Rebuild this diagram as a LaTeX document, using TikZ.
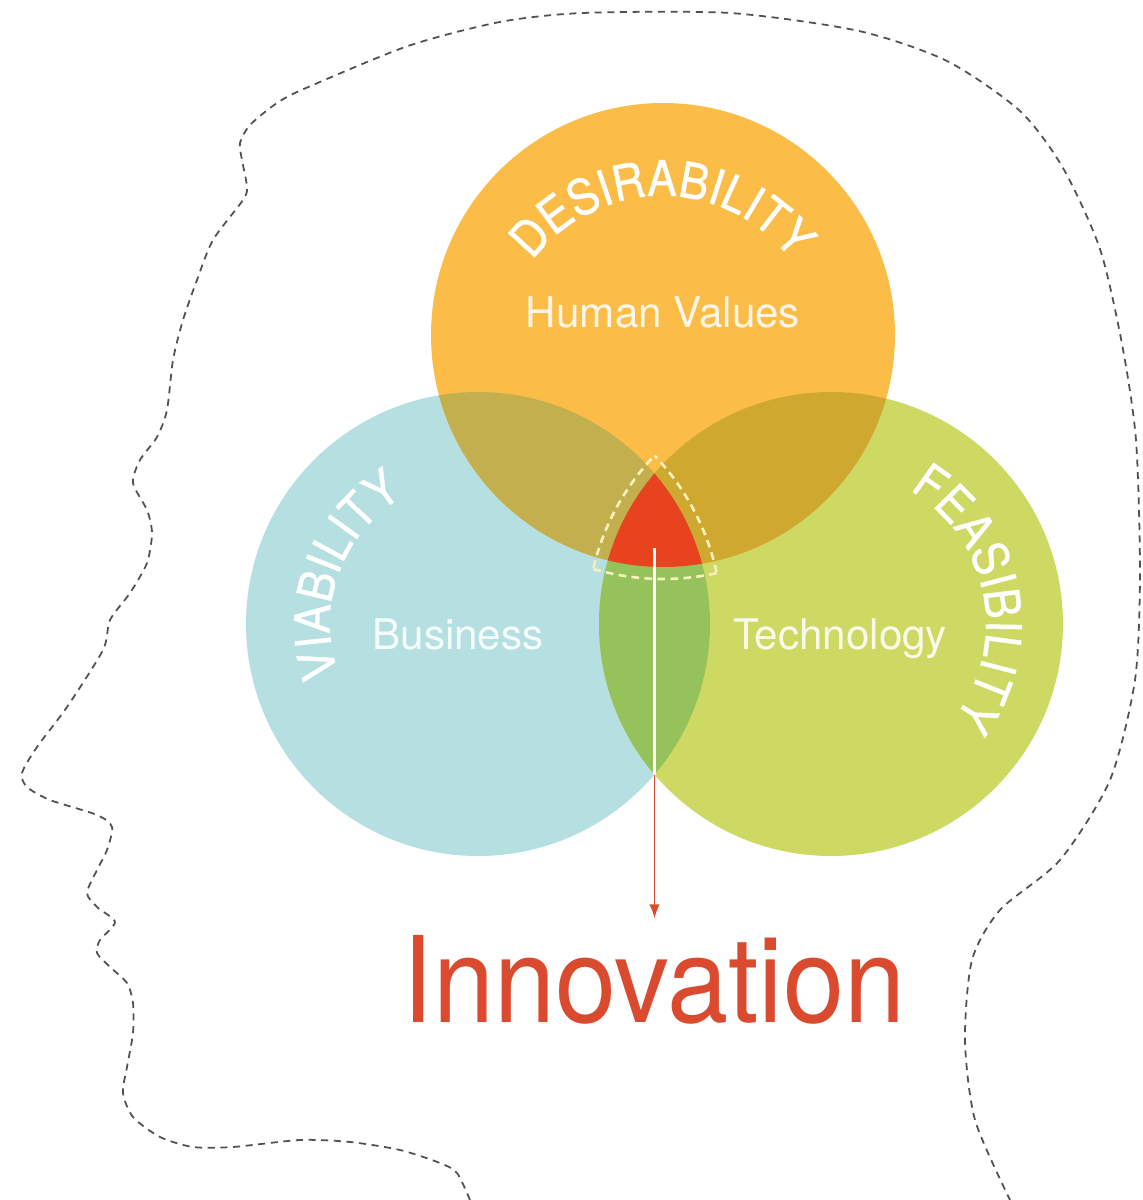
\documentclass[tikz,border=0pt]{standalone}
\usepackage{fontspec}
\setmainfont{TeX Gyre Heros}
\newfontfamily\innovfont[FakeStretch=0.92]{TeX Gyre Heros}
\newfontfamily\arcfont[FakeStretch=0.9,FakeBold=0.8]{TeX Gyre Heros}
\usepackage{tikz}
\usetikzlibrary{arrows.meta,decorations.text}

\definecolor{desircol}{HTML}{FBBD47}
\definecolor{viabcol}{HTML}{B5DFE0}
\definecolor{feascol}{HTML}{CDD963}
\definecolor{dvcol}{HTML}{C4AF4F}
\definecolor{dfcol}{HTML}{CFA92F}
\definecolor{vfcol}{HTML}{96C25C}
\definecolor{sparkcol}{HTML}{E8431F}
\definecolor{innovcol}{HTML}{DA4A2E}
\definecolor{creamcol}{HTML}{F6F0BC}
\definecolor{headcol}{HTML}{505050}

\begin{document}
\begin{tikzpicture}
        \tikzstyle{headline}=[
            draw=headcol,
            line width=0.5pt,
            dash pattern=on 2pt off 1.6pt
        ]
        \tikzstyle{sparkedge}=[
            draw=creamcol,
            line width=0.75pt,
            dash pattern=on 2.2pt off 1.5pt
        ]
        \tikzstyle{circlabel}=[
            text=white,
            text opacity=0.88,
            font=\fontsize{12}{14}\selectfont,
            anchor=base
        ]
        \tikzstyle{innovlabel}=[
            text=innovcol,
            font=\innovfont\fontsize{34}{40}\selectfont,
            inner sep=0pt,
            anchor=base
        ]
        \tikzstyle{arclabel}=[
            font=\arcfont\fontsize{14}{16}\selectfont,
            decorate
        ]

        \useasboundingbox (0,0) rectangle (11.42,12);

        \coordinate (dcen) at (6.63,8.65);
        \coordinate (vcen) at (4.78,5.76);
        \coordinate (fcen) at (8.31,5.76);

        \fill[viabcol] (vcen) circle (2.32);
        \fill[feascol] (fcen) circle (2.32);
        \fill[desircol] (dcen) circle (2.32);
        \begin{scope}
            \clip (dcen) circle (2.32);
            \fill[dvcol] (vcen) circle (2.32);
            \fill[dfcol] (fcen) circle (2.32);
        \end{scope}
        \begin{scope}
            \clip (vcen) circle (2.32);
            \fill[vfcol] (fcen) circle (2.32);
            \clip (fcen) circle (2.32);
            \fill[sparkcol] (dcen) circle (2.32);
        \end{scope}

        \begin{scope}
            \clip (vcen) circle (2.44);
            \clip (dcen) circle (2.44);
            \draw[sparkedge] (fcen) circle (2.44);
        \end{scope}
        \begin{scope}
            \clip (fcen) circle (2.44);
            \clip (dcen) circle (2.44);
            \draw[sparkedge] (vcen) circle (2.44);
        \end{scope}
        \begin{scope}
            \clip (vcen) circle (2.44);
            \clip (fcen) circle (2.44);
            \draw[sparkedge] (dcen) circle (2.44);
        \end{scope}

        \path[arclabel, decoration={text along path, text align=center, text color=white,
            text={|\arcfont\fontsize{14}{16}\selectfont|DESIRABILITY}}]
            (6.62,8.42) ++(154:1.62) arc[start angle=154, end angle=26, radius=1.62];
        \path[arclabel, decoration={text along path, text align=center, text color=white,
            text={|\arcfont\fontsize{14}{16}\selectfont|VIABILITY}}]
            (vcen) ++(215:1.48) arc[start angle=215, end angle=105, radius=1.48];
        \path[arclabel, decoration={text along path, text align=center, text color=white,
            text={|\arcfont\fontsize{14}{16}\selectfont|FEASIBILITY}}]
            (fcen) ++(66:1.55) arc[start angle=66, end angle=-44, radius=1.55];

        \node[circlabel] (human) at (6.63,8.72) {Human Values};
        \node[circlabel] (business) at (4.58,5.50) {Business};
        \node[circlabel] (technology) at (8.40,5.50) {Technology};
        \node[innovlabel] (innov) at (6.54,1.77) {Innovation};

        \coordinate (spark) at (6.545,6.52);
        \coordinate (lensbot) at (6.545,4.254);
        \draw[white, line width=0.6pt] (spark) -- (lensbot);
        \draw[innovcol, line width=0.45pt, -{Latex[length=4pt,width=3pt]}]
            (lensbot) -- ([yshift=4.8pt]lensbot |- innov.north);

        \draw[headline] plot[smooth, tension=0.45] coordinates {
            (4.70,0.00) (4.57,0.27) (4.40,0.37) (4.00,0.50) (3.50,0.58) (3.00,0.60)
            (2.33,0.53) (1.93,0.53) (1.60,0.63) (1.33,0.83) (1.23,1.07) (1.27,1.33)
            (1.33,1.67) (1.33,1.97) (1.27,2.17) (1.10,2.33) (0.97,2.47) (1.00,2.60)
            (1.15,2.78) (0.97,2.93) (0.87,3.07) (0.97,3.30) (1.07,3.50) (1.12,3.73)
            (0.97,3.85) (0.50,4.00) (0.27,4.13) (0.22,4.27) (0.37,4.53) (0.67,4.93)
            (1.03,5.50) (1.10,5.80) (1.30,6.07) (1.47,6.37) (1.52,6.67) (1.47,6.90)
            (1.33,7.17) (1.40,7.40) (1.57,7.63) (1.67,7.90) (1.73,8.40) (1.83,8.80)
            (1.97,9.20) (2.13,9.60) (2.43,10.00) (2.47,10.13) (2.42,10.40) (2.40,10.57)
            (2.50,10.75) (2.77,10.97) (3.06,11.12) (4.08,11.54) (5.00,11.78) (5.83,11.87)
            (7.30,11.87) (8.59,11.69) (9.47,11.39) (10.20,10.89) (10.63,10.32) (11.00,9.51)
            (11.22,8.56) (11.36,7.60) (11.40,6.26) (11.35,5.20) (11.10,4.20) (10.60,3.40)
            (10.00,2.90) (9.72,2.40) (9.65,1.60) (9.75,0.80) (10.10,0.00)};
    \end{tikzpicture}
\end{document}
